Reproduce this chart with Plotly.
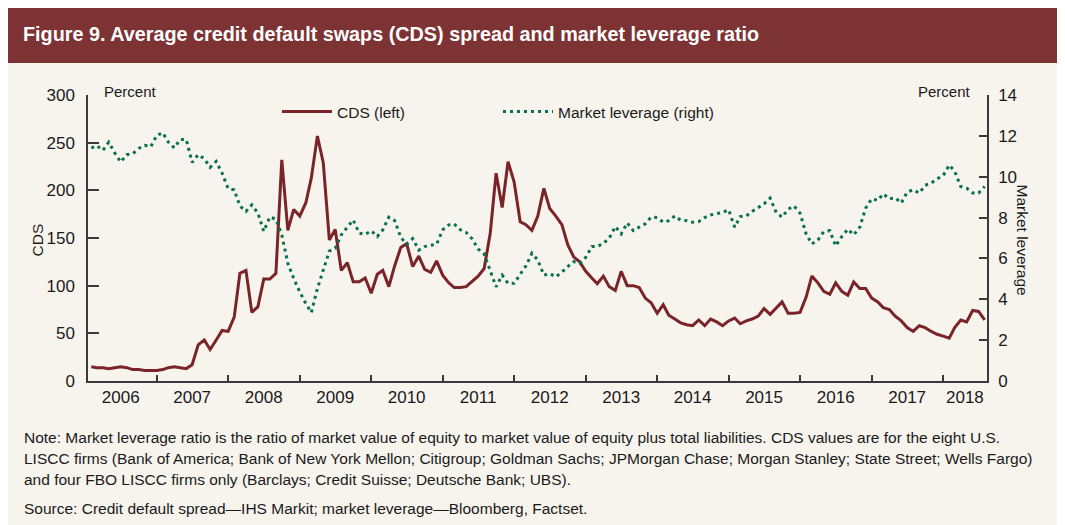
import pandas as pd
import plotly.graph_objects as go

# monthly observations, Feb 2006 - Aug 2018
meses = pd.date_range("2006-02-01", periods=151, freq="MS")

# CDS spread, basis points (left axis)
cds_2006 = [15, 14, 14, 13, 14, 15, 14, 12, 12, 11, 11]
cds_2007 = [11, 12, 14, 15, 14, 13, 17, 38, 43, 33, 43, 53]
cds_2008 = [52, 67, 113, 116, 72, 78, 107, 107, 113, 232, 158, 180]
cds_2009 = [173, 187, 213, 257, 229, 148, 159, 116, 124, 104, 104, 108]
cds_2010 = [92, 112, 116, 99, 121, 140, 144, 120, 131, 117, 114, 126]
cds_2011 = [111, 103, 98, 98, 99, 105, 110, 118, 155, 218, 182, 230]
cds_2012 = [209, 167, 164, 158, 173, 202, 181, 173, 164, 143, 130, 125]
cds_2013 = [115, 108, 102, 110, 99, 95, 115, 100, 100, 98, 87, 82]
cds_2014 = [71, 80, 69, 65, 61, 59, 58, 64, 58, 65, 62, 58]
cds_2015 = [63, 66, 60, 63, 65, 68, 76, 70, 77, 83, 71, 71]
cds_2016 = [72, 88, 110, 103, 94, 91, 103, 94, 90, 104, 97, 97]
cds_2017 = [87, 83, 77, 75, 68, 63, 56, 52, 58, 56, 52, 49]
cds_2018 = [47, 45, 56, 64, 62, 74, 73, 64]

# market leverage, percent (right axis)
lev_2006 = [11.41, 11.52, 11.29, 11.69, 11.16, 10.72, 11.08, 11.13, 11.38, 11.54, 11.46]
lev_2007 = [12.02, 12.15, 11.70, 11.41, 11.82, 11.82, 10.70, 11.08, 10.88, 10.46, 10.75, 10.18]
lev_2008 = [9.42, 9.36, 8.57, 8.30, 8.62, 8.22, 7.33, 8.03, 7.92, 7.15, 5.76, 5.02]
lev_2009 = [4.36, 3.79, 3.35, 4.53, 5.43, 6.36, 6.49, 7.15, 7.53, 7.88, 7.23, 7.18]
lev_2010 = [7.35, 7.07, 7.40, 8.02, 7.85, 7.03, 6.69, 6.97, 6.41, 6.58, 6.64, 6.69]
lev_2011 = [7.40, 7.64, 7.69, 7.40, 7.27, 6.95, 6.46, 6.22, 5.40, 4.61, 5.18, 4.78]
lev_2012 = [4.78, 5.23, 5.63, 6.25, 5.92, 5.18, 5.26, 5.10, 5.33, 5.60, 5.84, 5.76]
lev_2013 = [6.05, 6.58, 6.58, 6.74, 6.99, 7.56, 7.20, 7.74, 7.36, 7.53, 7.69, 8.02]
lev_2014 = [8.00, 7.77, 7.85, 8.08, 7.87, 7.85, 7.77, 7.80, 8.00, 8.13, 8.21, 8.25]
lev_2015 = [8.38, 7.53, 8.05, 8.08, 8.30, 8.51, 8.67, 8.95, 8.25, 8.02, 8.41, 8.57]
lev_2016 = [8.21, 7.20, 6.71, 6.90, 7.31, 7.36, 6.61, 7.07, 7.43, 7.15, 7.53, 8.46]
lev_2017 = [8.92, 8.84, 9.16, 8.92, 8.97, 8.71, 9.25, 9.36, 9.20, 9.58, 9.69, 9.90]
lev_2018 = [10.05, 10.57, 10.26, 9.52, 9.44, 9.20, 9.20, 9.52]

anios = ["2006", "2007", "2008", "2009", "2010", "2011", "2012",
         "2013", "2014", "2015", "2016", "2017", "2018"]
pos_etiquetas = [a + "-07-01" for a in anios[:-1]] + ["2018-04-22"]
limites_anio = [str(a) + "-01-01" for a in range(2007, 2019)]

cds = (cds_2006 + cds_2007 + cds_2008 + cds_2009 + cds_2010 + cds_2011 + cds_2012
       + cds_2013 + cds_2014 + cds_2015 + cds_2016 + cds_2017 + cds_2018)
lev = (lev_2006 + lev_2007 + lev_2008 + lev_2009 + lev_2010 + lev_2011 + lev_2012
       + lev_2013 + lev_2014 + lev_2015 + lev_2016 + lev_2017 + lev_2018)

ROJO = "#7a2428"
VERDE = "#08704d"
BANDA = "#7d3233"
FONDO = "#f7f4ee"
EJE = "#3a3a3a"
FUENTE = "Liberation Sans, Arial, sans-serif"

# the page puts the figure 8px in from the top-left corner
OFF = 8
W, H = 1065 - OFF, 525 - OFF
# plot area, in pixels of the window
L, R, T, B = 88, 987, 95, 381


def px(x):
    return (x - L) / (R - L)


def py(y):
    return (B - y) / (B - T)


fig = go.Figure()
fig.add_trace(go.Scatter(x=meses, y=cds, mode="lines", name="CDS (left)",
                         line=dict(color=ROJO, width=3)))
fig.add_trace(go.Scatter(x=meses, y=lev, mode="lines", name="Market leverage (right)",
                         yaxis="y2", line=dict(color=VERDE, width=3, dash="3px,4px")))

# title band and background
fig.add_shape(type="rect", xref="paper", yref="paper", x0=px(6), x1=px(1061),
              y0=py(530), y1=py(63), fillcolor=FONDO, line_width=0, layer="below")
fig.add_shape(type="rect", xref="paper", yref="paper", x0=px(6), x1=px(1061),
              y0=py(63), y1=py(0), fillcolor=BANDA, line_width=0, layer="below")

fig.add_annotation(text="<b>Figure 9. Average credit default swaps (CDS) spread and market leverage ratio</b>",
                   xref="paper", yref="paper", x=px(21), y=py(34), xanchor="left", yanchor="middle",
                   showarrow=False, font=dict(size=19.8, color="white"))

# axis units and titles
fig.add_annotation(text="Percent", xref="paper", yref="paper", x=px(102), y=py(91),
                   xanchor="left", yanchor="middle", showarrow=False, font=dict(size=15))
fig.add_annotation(text="Percent", xref="paper", yref="paper", x=px(973), y=py(91),
                   xanchor="right", yanchor="middle", showarrow=False, font=dict(size=15))
fig.add_annotation(text="CDS", xref="paper", yref="paper", x=px(26), y=py(240),
                   textangle=-90, showarrow=False, font=dict(size=15.5))
fig.add_annotation(text="Market leverage", xref="paper", yref="paper", x=px(1033), y=py(240),
                   textangle=90, showarrow=False, font=dict(size=15.5))

# notes
notas = [
    ("Note: Market leverage ratio is the ratio of market value of equity to market value of equity plus total liabilities. CDS values are for the eight U.S.", 437),
    ("LISCC firms (Bank of America; Bank of New York Mellon; Citigroup; Goldman Sachs; JPMorgan Chase; Morgan Stanley; State Street; Wells Fargo)", 458),
    ("and four FBO LISCC firms only (Barclays; Credit Suisse; Deutsche Bank; UBS).", 479),
    ("Source: Credit default spread\u2014IHS Markit; market leverage\u2014Bloomberg, Factset.", 508),
]
for texto, yy in notas:
    fig.add_annotation(text=texto, xref="paper", yref="paper", x=px(22), y=py(yy),
                       xanchor="left", yanchor="middle", showarrow=False, font=dict(size=15.5))

fig.update_layout(
    width=W, height=H,
    margin=dict(l=L - OFF, r=1065 - R, t=T - OFF, b=525 - B),
    paper_bgcolor="white", plot_bgcolor=FONDO,
    font=dict(family=FUENTE, size=15.5, color="#1a1a1a"),
    showlegend=True,
    legend=dict(orientation="h", x=px(277), y=py(112), xanchor="left", yanchor="middle",
                bgcolor="rgba(0,0,0,0)", font=dict(size=15.5),
                entrywidth=156, entrywidthmode="pixels", itemwidth=50),
    xaxis=dict(type="date", range=["2006-01-15", "2018-08-13"],
               showgrid=False, zeroline=False,
               showline=True, linecolor=EJE, linewidth=1.5,
               tickmode="array", tickvals=pos_etiquetas, ticktext=anios, ticks="",
               tickfont=dict(size=17),
               minor=dict(tickmode="array", tickvals=limites_anio, ticks="inside",
                          ticklen=6, tickcolor=EJE, tickwidth=1.5, showgrid=False)),
    yaxis=dict(range=[0, 300], tickvals=[0, 50, 100, 150, 200, 250, 300],
               showgrid=False, zeroline=False,
               showline=True, linecolor=EJE, linewidth=1.5,
               ticks="inside", ticklen=11, tickcolor=EJE, tickwidth=1.5,
               tickfont=dict(size=17), ticklabelstandoff=8),
    yaxis2=dict(range=[0, 14], tickvals=[0, 2, 4, 6, 8, 10, 12, 14],
                overlaying="y", side="right",
                showgrid=False, zeroline=False,
                showline=True, linecolor=EJE, linewidth=1.5,
                ticks="inside", ticklen=8, tickcolor=EJE, tickwidth=1.5,
                tickfont=dict(size=17), ticklabelstandoff=6),
)

fig.write_html("out.html")
